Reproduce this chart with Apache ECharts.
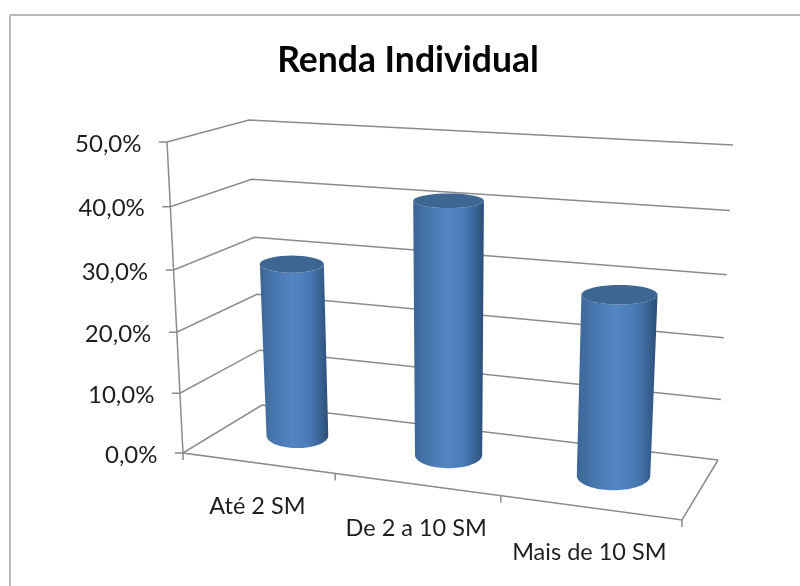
<!DOCTYPE html>
<html><head><meta charset="utf-8">
<style>html,body{margin:0;padding:0;background:#fff}#c{width:800px;height:586px;filter:blur(0.6px)}</style>
<script src="https://cdn.jsdelivr.net/npm/echarts@6/dist/echarts.min.js"></script>
</head><body><div id="c"></div>
<script>
var categories = ['Até 2 SM', 'De 2 a 10 SM', 'Mais de 10 SM'];
var values = [29, 41, 28.5];
var yTicks = [0, 10, 20, 30, 40, 50];
var yTickLabels = ['0,0%', '10,0%', '20,0%', '30,0%', '40,0%', '50,0%'];
var titleText = 'Renda Individual';

// 3D view box: screen corners of the plot volume
var view = {
  f0: [[183, 453], [682, 520]], b0: [[262, 405], [718, 460]],
  f1: [[167, 142], [700, 170]], b1: [[249, 120], [733, 145]],
  kU: 1.14, kV: 1.05, depth: 0.55, ru: 0.071, rd: 0.25
};
function lerp(a, b, t) { return [a[0] + (b[0] - a[0]) * t, a[1] + (b[1] - a[1]) * t]; }
function warp(t, k) { return t / (t + k * (1 - t)); }
// u: 0..1 along category axis, d: 0 front..1 back, v: 0..1 along value axis
function project(u, d, v) {
  var U = warp(u, view.kU), V = warp(v, view.kV);
  var bottom = lerp(lerp(view.f0[0], view.f0[1], U), lerp(view.b0[0], view.b0[1], U), d);
  var top = lerp(lerp(view.f1[0], view.f1[1], U), lerp(view.b1[0], view.b1[1], U), d);
  return lerp(bottom, top, V);
}
function norm(params, api, cat, val) {
  var c = params.coordSys, p = api.coord([cat, val]);
  return { u: (p[0] - c.x) / c.width, v: (c.y + c.height - p[1]) / c.height };
}
// screen-aligned ellipse of a cylinder section
function ring(u, v, from, to) {
  var c = project(u, view.depth, v);
  var hw = (project(u + view.ru, view.depth, v)[0] - project(u - view.ru, view.depth, v)[0]) / 2;
  var hh = (project(u, view.depth - view.rd, v)[1] - project(u, view.depth + view.rd, v)[1]) / 2;
  var pts = [], n = 40;
  for (var i = 0; i <= n; i++) {
    var a = from + (to - from) * i / n;
    pts.push([c[0] + hw * Math.cos(a), c[1] + hh * Math.sin(a)]);
  }
  return pts;
}
var lineStyle = { stroke: '#8b8b8b', lineWidth: 1.5, fill: null };
var textStyle = { font: '24px Lato', fill: '#1e1e1e' };

var option = {
  animation: false,
  backgroundColor: '#ffffff',
  title: { text: titleText, left: 403, top: 38, textAlign: 'center',
    textStyle: { fontFamily: 'Lato', fontWeight: 'bold', fontSize: 35.5, color: '#050505' } },
  grid: { left: 175, width: 497, top: 142, height: 311 },
  xAxis: { type: 'category', data: categories, axisLine: { show: false }, axisTick: { show: false }, axisLabel: { show: false } },
  yAxis: { type: 'value', min: 0, max: 50, interval: 10, axisLine: { show: false }, axisTick: { show: false }, axisLabel: { show: false }, splitLine: { show: false } },
  graphic: [
    { type: 'line', shape: { x1: 10, y1: 15, x2: 800, y2: 15 }, style: { stroke: '#b9b9b9', lineWidth: 2 } },
    { type: 'line', shape: { x1: 10, y1: 15, x2: 10, y2: 586 }, style: { stroke: '#b9b9b9', lineWidth: 2 } }
  ],
  series: [
    { // walls and value labels
      type: 'custom', coordinateSystem: 'cartesian2d', clip: false, silent: true, z: 1,
      data: yTicks.map(function (t) { return [0, t]; }),
      renderItem: function (params, api) {
        var n = norm(params, api, 0, api.value(1));
        var a = project(0, 0, n.v), b = project(0, 1, n.v), c = project(1, 1, n.v);
        return { type: 'group', children: [
          { type: 'polyline', shape: { points: [[a[0] - 8, a[1]], a, b, c] }, style: lineStyle },
          { type: 'text', style: Object.assign({ text: yTickLabels[params.dataIndex], x: a[0] - 25.5, y: a[1] + 2, align: 'right', verticalAlign: 'middle' }, textStyle) }
        ] };
      }
    },
    { // value axis edge, floor edges and category ticks
      type: 'custom', coordinateSystem: 'cartesian2d', clip: false, silent: true, z: 1,
      data: [[0, 0]],
      renderItem: function () {
        var kids = [
          { type: 'polyline', shape: { points: [project(0, 0, 1), project(0, 0, 0), project(1, 0, 0), project(1, 1, 0)] }, style: lineStyle }
        ];
        for (var i = 0; i <= categories.length; i++) {
          var p = project(i / categories.length, 0, 0);
          kids.push({ type: 'line', shape: { x1: p[0], y1: p[1], x2: p[0], y2: p[1] + 7 }, style: lineStyle });
        }
        return { type: 'group', children: kids };
      }
    },
    { // cylinders and category labels
      type: 'custom', coordinateSystem: 'cartesian2d', clip: false, silent: true, z: 2,
      data: values.map(function (v, i) { return [i, v]; }),
      renderItem: function (params, api) {
        var i = params.dataIndex;
        var top = norm(params, api, i, api.value(1));
        var base = norm(params, api, i, 0);
        var front = ring(top.u, base.v, 0, Math.PI).concat(ring(top.u, top.v, Math.PI, 0));
        var cap = ring(top.u, top.v, 0, Math.PI * 2);
        var lab = project(top.u, 0, 0);
        return { type: 'group', children: [
          { type: 'polygon', shape: { points: front }, style: { fill: new echarts.graphic.LinearGradient(0, 0, 1, 0, [
            { offset: 0, color: '#3b6596' }, { offset: 0.18, color: '#4674aa' }, { offset: 0.48, color: '#5486c5' },
            { offset: 0.72, color: '#4a7ab6' }, { offset: 0.9, color: '#37608f' }, { offset: 1, color: '#2c4c76' }]) } },
          { type: 'polygon', shape: { points: cap }, style: { fill: '#3e6693' } },
          { type: 'text', style: { text: categories[i], x: lab[0], y: lab[1] + 43 + i, align: 'center', verticalAlign: 'middle', font: '23.5px Lato', fill: '#1e1e1e' } }
        ] };
      }
    }
  ]
};
var chart = echarts.init(document.getElementById('c'), null, { renderer: 'canvas' });
chart.setOption(option);
</script></body></html>
